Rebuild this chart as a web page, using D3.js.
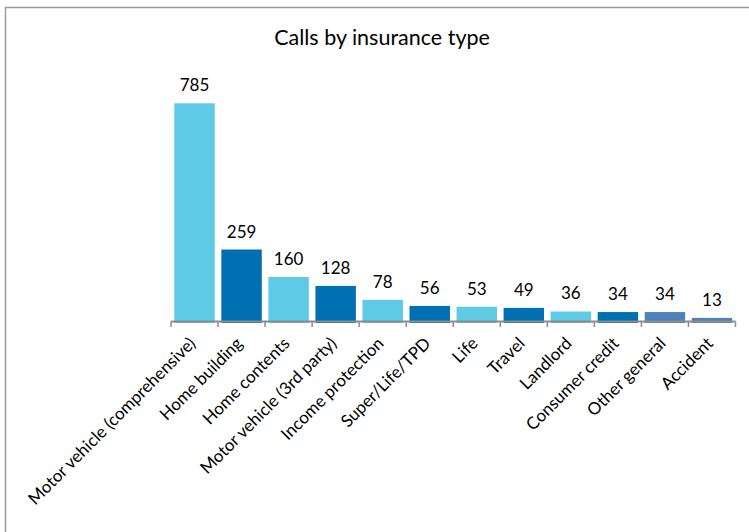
<!DOCTYPE html>
<html>
<head>
<meta charset="utf-8">
<script src="https://cdn.jsdelivr.net/npm/d3@7"></script>
<style>
  html, body { margin: 0; padding: 0; background: #fff; }
  svg { display: block; }
  text { font-family: Lato, "Open Sans", sans-serif; fill: #000; }
</style>
</head>
<body>
<script>
const categories = ["Motor vehicle (comprehensive)", "Home building", "Home contents", "Motor vehicle (3rd party)", "Income protection", "Super/Life/TPD", "Life", "Travel", "Landlord", "Consumer credit", "Other general", "Accident"];
const values = [785, 259, 160, 128, 78, 56, 53, 49, 36, 34, 34, 13];
const barColors = ["#5ECAE6", "#0070B2", "#5ECAE6", "#0070B2", "#5ECAE6", "#0070B2", "#5ECAE6", "#0070B2", "#5ECAE6", "#0070B2", "#4F81BD", "#4F81BD"];
const title = "Calls by insurance type";

const W = 749, H = 532;
const svg = d3.select("body").append("svg").attr("width", W).attr("height", H);

// frame (extends beyond the view on right and bottom)
svg.append("rect").attr("x", 5.5).attr("y", 7.5).attr("width", 900).attr("height", 900)
  .attr("fill", "none").attr("stroke", "#9a9a9a").attr("stroke-width", 1.5);

svg.append("text").attr("x", 382).attr("y", 45).attr("text-anchor", "middle")
  .style("font-size", "21.5px").text(title);

const x0 = 171, x1 = 735.5, y0 = 321.5;
const x = d3.scaleBand().domain(categories).range([x0, x1]).paddingInner(0.14).paddingOuter(0.07);
const y = d3.scaleLinear().domain([0, 785]).range([y0, 103.3]);

svg.selectAll("rect.bar").data(values).enter().append("rect").attr("class", "bar")
  .attr("x", (d, i) => x(categories[i]))
  .attr("y", d => y(d))
  .attr("width", x.bandwidth())
  .attr("height", d => y0 + 1.5 - y(d))
  .attr("fill", (d, i) => barColors[i]);

svg.selectAll("text.val").data(values).enter().append("text").attr("class", "val")
  .attr("x", (d, i) => x(categories[i]) + x.bandwidth() / 2)
  .attr("y", d => y(d) - 12)
  .attr("text-anchor", "middle")
  .style("font-size", "17px")
  .text(d => d);

// axis line and boundary ticks
const step = x.step();
const axisG = svg.append("g");
axisG.append("line").attr("x1", x0).attr("x2", x1).attr("y1", y0).attr("y2", y0)
  .attr("stroke", "#8c8c8c").attr("stroke-width", 2);
const boundaries = d3.range(categories.length + 1).map(i => x0 + i * step);
axisG.selectAll("line.tick").data(boundaries).enter().append("line").attr("class", "tick")
  .attr("x1", d => d).attr("x2", d => d).attr("y1", y0).attr("y2", y0 + 5.5)
  .attr("stroke", "#8c8c8c").attr("stroke-width", 1.5);

svg.selectAll("text.cat").data(categories).enter().append("text").attr("class", "cat")
  .attr("transform", d => `translate(${x(d) + x.bandwidth() / 2 + 2},${y0 + 23}) rotate(-45)`)
  .attr("text-anchor", "end")
  .style("font-size", "17px")
  .text(d => d);
</script>
</body>
</html>
